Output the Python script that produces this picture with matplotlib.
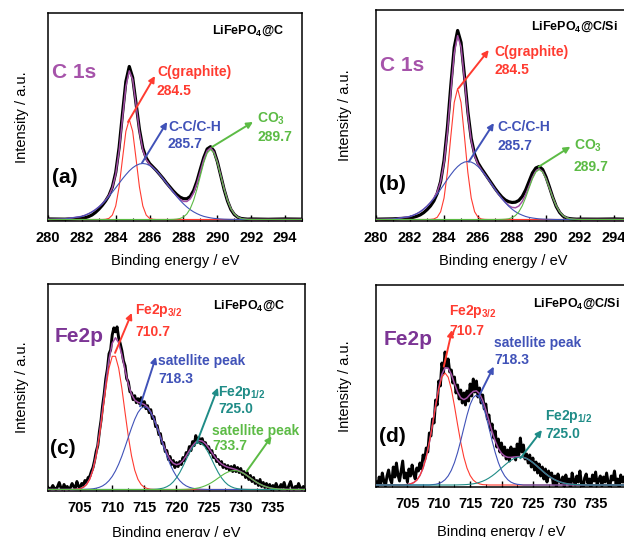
import numpy as np
import matplotlib
matplotlib.use('Agg')
import matplotlib.pyplot as plt
from matplotlib.ticker import MultipleLocator

plt.rcParams['font.family'] = ['Liberation Sans', 'DejaVu Sans']
plt.rcParams['font.weight'] = 'bold'
plt.rcParams['mathtext.fontset'] = 'custom'
plt.rcParams['mathtext.rm'] = 'Liberation Sans:bold'
plt.rcParams['mathtext.bf'] = 'Liberation Sans:bold'
plt.rcParams['mathtext.default'] = 'bf'

# ---- C 1s spectra (binding energy grid, eV) ----
c1s_energy = np.round(np.concatenate([[280, 281], np.arange(282, 292.01, 0.2), [293, 294, 295]]), 1)

# LiFePO4@C
c1s_a_graphite = [0, 0, 0, 0, 0, 0, 0, 0,
                  0, 0.2, 1.1, 4.4, 13.5, 32.5, 60.7, 88.2,
                  100, 88.2, 60.7, 32.5, 13.5, 4.4, 1.1, 0.2,
                  0, 0, 0, 0, 0, 0, 0, 0,
                  0, 0, 0, 0, 0, 0, 0, 0,
                  0, 0, 0, 0, 0, 0, 0, 0,
                  0, 0, 0, 0, 0, 0, 0, 0]
c1s_a_cc = [0.1, 0.5, 3.1, 4.3, 5.8, 7.6, 9.8, 12.5,
            15.6, 19.1, 23.0, 27.3, 31.7, 36.2, 40.7, 44.8,
            48.6, 51.7, 54.0, 55.5, 56.0, 55.5, 54.0, 51.7,
            48.6, 44.8, 40.7, 36.2, 31.7, 27.3, 23.0, 19.1,
            15.6, 12.5, 9.8, 7.6, 5.8, 4.3, 3.1, 2.3,
            1.6, 1.1, 0.8, 0.5, 0.3, 0.2, 0.1, 0.1,
            0, 0, 0, 0, 0, 0, 0, 0]
c1s_a_co3 = [0, 0, 0, 0, 0, 0, 0, 0,
             0, 0, 0, 0, 0, 0, 0, 0,
             0, 0, 0, 0, 0, 0, 0, 0,
             0, 0, 0, 0, 0, 0.1, 0.4, 1.0,
             2.5, 5.5, 10.8, 19.1, 30.5, 43.8, 56.9, 66.4,
             70.0, 66.4, 56.9, 43.8, 30.5, 19.1, 10.8, 5.5,
             2.5, 1.0, 0.4, 0.1, 0, 0, 0, 0]
c1s_a_raw = [0.5, 0.3, 1.2, 1.8, 2.9, 4.5, 7.0, 10.2,
             14.0, 18.5, 24.0, 32.5, 47.0, 72.0, 106.0, 138.0,
             153.0, 142.0, 116.0, 90.0, 71.5, 61.5, 56.0, 52.5,
             49.0, 45.0, 41.0, 36.5, 32.5, 28.5, 25.0, 22.3,
             20.8, 20.7, 23.0, 29.0, 38.5, 50.5, 62.0, 70.5,
             72.8, 68.5, 58.0, 44.0, 30.0, 18.5, 10.0, 5.0,
             2.3, 1.0, 0.6, 0.3, 0.5, 0.2, 0.5, 0.3]

# LiFePO4@C/Si
c1s_b_graphite = [0, 0, 0, 0, 0, 0, 0, 0,
                  0.1, 0.5, 2.2, 7.7, 21.4, 47.2, 83.2, 117.0,
                  131.0, 117.0, 83.2, 47.2, 21.4, 7.7, 2.2, 0.5,
                  0.1, 0, 0, 0, 0, 0, 0, 0,
                  0, 0, 0, 0, 0, 0, 0, 0,
                  0, 0, 0, 0, 0, 0, 0, 0,
                  0, 0, 0, 0, 0, 0, 0, 0]
c1s_b_cc = [0, 0.4, 3.0, 4.3, 5.8, 7.8, 10.3, 13.3,
            16.9, 20.9, 25.4, 30.2, 35.2, 40.2, 44.9, 49.3,
            52.9, 55.7, 57.4, 58.0, 57.4, 55.7, 52.9, 49.3,
            44.9, 40.2, 35.2, 30.2, 25.4, 20.9, 16.9, 13.3,
            10.3, 7.8, 5.8, 4.3, 3.0, 2.1, 1.5, 1.0,
            0.6, 0.4, 0.3, 0.2, 0.1, 0, 0, 0,
            0, 0, 0, 0, 0, 0, 0, 0]
c1s_b_co3 = [0, 0, 0, 0, 0, 0, 0, 0,
             0, 0, 0, 0, 0, 0, 0, 0,
             0, 0, 0, 0, 0, 0, 0, 0,
             0, 0, 0, 0, 0, 0.1, 0.3, 0.7,
             1.8, 3.9, 7.7, 13.6, 21.8, 31.3, 40.6, 47.4,
             50.0, 47.4, 40.6, 31.3, 21.8, 13.6, 7.7, 3.9,
             1.8, 0.7, 0.3, 0.1, 0, 0, 0, 0]
c1s_b_raw = [0.3, 0.6, 1.5, 2.2, 3.2, 4.6, 6.8, 9.8,
             13.5, 18.5, 26.0, 38.0, 59.0, 92.0, 134.0, 172.0,
             189.0, 177.0, 144.0, 108.0, 81.0, 65.0, 56.5, 51.0,
             46.0, 41.0, 36.0, 31.0, 26.5, 22.5, 19.5, 17.8,
             17.0, 17.3, 19.0, 23.0, 29.5, 38.0, 46.5, 51.5,
             53.0, 50.0, 42.5, 32.5, 22.0, 13.0, 7.0, 3.3,
             1.5, 0.8, 0.5, 0.3, 0.4, 0.3, 0.5, 0.2]

# ---- Fe 2p spectra ----
fe_fit_energy = np.arange(700, 740.01, 0.5)
fe_raw_energy = np.arange(700, 740.01, 0.25)

# fitted components: (first energy, values every 0.5 eV)
fe_c_p32 = (704.0, [0.1, 0.3, 0.9, 2.1, 4.9, 10.2, 19.4, 33.7, 53.3, 76.9, 101.3, 121.7, 133.5,
                    133.5, 121.7, 101.3, 76.9, 53.3, 33.7, 19.4, 10.2, 4.9, 2.1, 0.9, 0.3, 0.1])
fe_c_sat1 = (705.5, [0.1, 0.2, 0.4, 0.7, 1.3, 2.2, 3.6, 5.8, 8.9, 13.1, 18.6, 25.4, 33.5, 42.7, 52.3,
                     61.7, 70.3, 77.1, 81.5, 83.0, 81.5, 77.1, 70.3, 61.7, 52.3, 42.7, 33.5, 25.4,
                     18.6, 13.1, 8.9, 5.8, 3.6, 2.2, 1.3, 0.7, 0.4, 0.2, 0.1])
fe_c_p12 = (716.0, [0.1, 0.2, 0.4, 0.8, 1.5, 2.8, 4.7, 7.7, 11.7, 16.9, 23.1, 29.9, 36.4, 42.0, 45.7,
                    47.0, 45.7, 42.0, 36.4, 29.9, 23.1, 16.9, 11.7, 7.7, 4.7, 2.8, 1.5, 0.8, 0.4,
                    0.2, 0.1])
fe_c_sat2 = (721.0, [0.1, 0.2, 0.4, 0.6, 1.1, 1.7, 2.6, 3.8, 5.3, 7.1, 9.2, 11.5, 13.8, 15.9, 17.5,
                     18.6, 19.0, 18.6, 17.5, 15.9, 13.8, 11.5, 9.2, 7.1, 5.3, 3.8, 2.6, 1.7, 1.1,
                     0.6, 0.4, 0.2, 0.1])
fe_c_raw = [2, 0, 1, 4, 1, 0, 3, 7,
            2, 0, 5, 1, 3, 0, 2, 6,
            3, 1, 8, 3, 2, 6, 4, 9,
            7, 12, 13, 18, 22, 29, 38, 44,
            58, 69, 84, 96, 111, 121, 136, 140,
            155, 162, 158, 163, 152, 146, 139, 129,
            124, 111, 108, 98, 97, 90, 94, 87,
            91, 86, 92, 84, 88, 81, 84, 77,
            80, 71, 73, 63, 64, 55, 56, 46,
            47, 38, 39, 30, 33, 25, 29, 22,
            27, 23, 28, 25, 32, 29, 37, 35,
            43, 39, 48, 44, 54, 47, 52, 46,
            51, 45, 47, 41, 43, 37, 39, 32,
            34, 28, 30, 25, 28, 22, 25, 21,
            24, 19, 23, 18, 24, 18, 22, 17,
            21, 15, 18, 12, 17, 10, 14, 8,
            12, 6, 9, 4, 10, 3, 7, 2,
            6, 1, 5, 0, 4, 1, 6, 2,
            0, 5, 2, 7, 1, 0, 4, 8,
            2, 0, 3, 1, 6, 2, 0, 3,
            1]

fe_d_p32 = (704.5, [0.2, 0.4, 1.1, 2.4, 4.9, 9.5, 16.9, 27.9, 42.7, 60.4, 79.1, 96.0, 107.8, 112.0,
                    107.8, 96.0, 79.1, 60.4, 42.7, 27.9, 16.9, 9.5, 4.9, 2.4, 1.1, 0.4, 0.2])
fe_d_sat1 = (709.0, [0.4, 0.7, 1.5, 2.9, 5.3, 9.1, 14.7, 22.4, 32.4, 44.3, 57.2, 69.7, 80.4, 87.5,
                     90.0, 87.5, 80.4, 69.7, 57.2, 44.3, 32.4, 22.4, 14.7, 9.1, 5.3, 2.9, 1.5,
                     0.7, 0.4])
fe_d_p12 = (713.0, [0.1, 0.2, 0.3, 0.5, 0.8, 1.2, 1.8, 2.7, 3.8, 5.2, 7.0, 9.1, 11.5, 14.2, 17.0,
                    19.8, 22.4, 24.7, 26.5, 27.6, 28.0, 27.6, 26.5, 24.7, 22.4, 19.8, 17.0, 14.2,
                    11.5, 9.1, 7.0, 5.2, 3.8, 2.7, 1.8, 1.2, 0.8, 0.5, 0.3, 0.2, 0.1])
fe_d_raw = [3, -2, 8, 1, 12, 4, -1, 9,
            15, 6, 2, 18, 8, 22, 10, 4,
            14, 24, 7, 12, 3, 16, 9, 20,
            11, 6, 17, 14, 22, 16, 30, 25,
            37, 33, 52, 49, 66, 62, 85, 80,
            104, 99, 122, 112, 133, 118, 126, 113,
            115, 102, 108, 92, 100, 86, 95, 82,
            92, 80, 94, 84, 101, 89, 106, 93,
            104, 88, 97, 82, 90, 76, 81, 66,
            70, 55, 61, 47, 54, 38, 46, 33,
            42, 30, 38, 26, 35, 24, 38, 29,
            36, 25, 41, 30, 47, 33, 40, 26,
            31, 22, 30, 18, 27, 15, 23, 12,
            21, 9, 18, 6, 16, 3, 14, 8,
            12, 1, 9, -3, 11, 4, 2, 8,
            -2, 10, 3, 6, -4, 12, 5, 0,
            9, 3, 14, 1, -3, 7, 11, 2,
            6, -2, 10, 4, 13, 0, 5, 9,
            -1, 8, 3, 12, 2, -3, 9, 5,
            14, 1, 6, -2, 10, 3, 8, 0,
            4]

RED = '#ff3b30'
BLUE = '#4052b8'
GREEN = '#5cbb45'
TEAL = '#1f8c87'
ENV = '#a24fa6'
C1S_TXT = '#a653aa'
FE_TXT = '#7c3595'


def on_fit_grid(component):
    start, vals = component
    out = np.zeros(len(fe_fit_energy))
    i = int(round((start - fe_fit_energy[0]) / 0.5))
    out[i:i + len(vals)] = vals
    return out


def style_axes(ax, xlim, ylim, ticks, minor, ypad, xpad):
    ax.set_xlim(*xlim)
    ax.set_ylim(*ylim)
    ax.set_xticks(ticks)
    ax.xaxis.set_minor_locator(MultipleLocator(minor))
    ax.tick_params(axis='x', which='both', direction='in', labelsize=10.5, pad=7.5)
    ax.tick_params(axis='x', which='major', length=4, width=1)
    ax.tick_params(axis='x', which='minor', length=2.5, width=0.8)
    ax.set_yticks([])
    for s in ax.spines.values():
        s.set_linewidth(1.1)
    ax.set_xlabel('Binding energy / eV', fontsize=10.5, labelpad=xpad)
    ax.set_ylabel('Intensity / a.u.', fontsize=10.5, labelpad=ypad)


def label(ax, x, y, s, color, size=10):
    ax.text(x, y, s, color=color, fontsize=size, ha='left', va='center',
            transform=ax.transAxes)


def arrow(ax, tail, tip, color):
    ax.annotate('', xy=tip, xytext=tail, xycoords='axes fraction',
                arrowprops=dict(arrowstyle='-|>', color=color, lw=1.4,
                                mutation_scale=9, shrinkA=0, shrinkB=0))


fig = plt.figure(figsize=(6.24, 5.37), dpi=100)
ax_a = fig.add_axes([0.0769, 0.5885, 0.4071, 0.3873])
ax_b = fig.add_axes([0.6026, 0.5885, 0.4087, 0.3929])
ax_c = fig.add_axes([0.0769, 0.0857, 0.4119, 0.3855])
ax_d = fig.add_axes([0.6026, 0.0931, 0.4022, 0.3762])

# (a) and (b): C 1s
for ax, parts, raw in [(ax_a, (c1s_a_graphite, c1s_a_cc, c1s_a_co3), c1s_a_raw),
                       (ax_b, (c1s_b_graphite, c1s_b_cc, c1s_b_co3), c1s_b_raw)]:
    envelope = np.sum([np.array(p) for p in parts], axis=0)
    ax.plot(c1s_energy, raw, color='black', lw=2.3, zorder=2)
    ax.plot(c1s_energy, envelope, color=ENV, lw=1.1, zorder=3)
    for p, col in zip(parts, (RED, BLUE, GREEN)):
        ax.plot(c1s_energy, p, color=col, lw=0.8, zorder=4)

style_axes(ax_a, (280, 295), (-1.5, 206.5), np.arange(280, 295, 2), 1, 14, 6.5)
style_axes(ax_b, (280, 295), (-1.5, 209.5), np.arange(280, 295, 2), 1, 17, 6.5)

label(ax_a, 0.646, 0.913, r'LiFePO$_4$@C', 'black', 9)
label(ax_a, 0.016, 0.712, 'C 1s', C1S_TXT, 15)
label(ax_a, 0.016, 0.207, '(a)', 'black', 15)
label(ax_a, 0.429, 0.716, 'C(graphite)', RED)
label(ax_a, 0.429, 0.625, '284.5', RED)
label(ax_a, 0.472, 0.452, 'C-C/C-H', BLUE)
label(ax_a, 0.472, 0.370, '285.7', BLUE)
label(ax_a, 0.823, 0.492, r'CO$_3$', GREEN)
label(ax_a, 0.823, 0.405, '289.7', GREEN)
arrow(ax_a, (0.315, 0.476), (0.421, 0.697), RED)
arrow(ax_a, (0.370, 0.279), (0.469, 0.476), BLUE)
arrow(ax_a, (0.646, 0.356), (0.807, 0.476), GREEN)

label(ax_b, 0.608, 0.919, r'LiFePO$_4$@C/Si', 'black', 9)
label(ax_b, 0.016, 0.739, 'C 1s', C1S_TXT, 15)
label(ax_b, 0.012, 0.175, '(b)', 'black', 15)
label(ax_b, 0.463, 0.801, 'C(graphite)', RED)
label(ax_b, 0.463, 0.716, '284.5', RED)
label(ax_b, 0.475, 0.445, 'C-C/C-H', BLUE)
label(ax_b, 0.475, 0.355, '285.7', BLUE)
label(ax_b, 0.776, 0.358, r'CO$_3$', GREEN)
label(ax_b, 0.776, 0.258, '289.7', GREEN)
arrow(ax_b, (0.324, 0.630), (0.442, 0.810), RED)
arrow(ax_b, (0.364, 0.281), (0.462, 0.464), BLUE)
arrow(ax_b, (0.638, 0.257), (0.762, 0.352), GREEN)

# (c) and (d): Fe 2p
for ax, parts, cols, raw in [
        (ax_c, (fe_c_p32, fe_c_sat1, fe_c_p12, fe_c_sat2), (RED, BLUE, TEAL, GREEN), fe_c_raw),
        (ax_d, (fe_d_p32, fe_d_sat1, fe_d_p12), (RED, BLUE, TEAL), fe_d_raw)]:
    curves = [on_fit_grid(p) for p in parts]
    envelope = np.sum(curves, axis=0)
    ax.plot(fe_raw_energy, raw, color='black', lw=2.1, zorder=2)
    ax.plot(fe_fit_energy, envelope, color=ENV, lw=1.1, zorder=3)
    for cv, col in zip(curves, cols):
        ax.plot(fe_fit_energy, cv, color=col, lw=0.8, zorder=4)

style_axes(ax_c, (700, 740), (-1.5, 206), np.arange(705, 736, 5), 2.5, 14, 7.5)
style_axes(ax_d, (700, 740), (-2, 200), np.arange(705, 736, 5), 2.5, 17, 10)

label(ax_c, 0.642, 0.894, r'LiFePO$_4$@C', 'black', 9)
label(ax_c, 0.027, 0.745, 'Fe2p', FE_TXT, 15)
label(ax_c, 0.008, 0.205, '(c)', 'black', 15)
label(ax_c, 0.339, 0.870, r'Fe2p$_{3/2}$', RED)
label(ax_c, 0.339, 0.769, '710.7', RED)
label(ax_c, 0.428, 0.629, 'satellite peak', BLUE)
label(ax_c, 0.428, 0.542, '718.3', BLUE)
label(ax_c, 0.661, 0.478, r'Fe2p$_{1/2}$', TEAL)
label(ax_c, 0.661, 0.395, '725.0', TEAL)
label(ax_c, 0.638, 0.292, 'satellite peak', GREEN)
label(ax_c, 0.638, 0.215, '733.7', GREEN)
arrow(ax_c, (0.261, 0.667), (0.326, 0.860), RED)
arrow(ax_c, (0.358, 0.409), (0.420, 0.648), BLUE)
arrow(ax_c, (0.579, 0.234), (0.661, 0.499), TEAL)
arrow(ax_c, (0.773, 0.095), (0.870, 0.264), GREEN)

label(ax_d, 0.626, 0.906, r'LiFePO$_4$@C/Si', 'black', 9)
label(ax_d, 0.032, 0.728, 'Fe2p', FE_TXT, 15)
label(ax_d, 0.012, 0.248, '(d)', 'black', 15)
label(ax_d, 0.291, 0.871, r'Fe2p$_{3/2}$', RED)
label(ax_d, 0.291, 0.772, '710.7', RED)
label(ax_d, 0.470, 0.713, 'satellite peak', BLUE)
label(ax_d, 0.470, 0.629, '718.3', BLUE)
label(ax_d, 0.673, 0.351, r'Fe2p$_{1/2}$', TEAL)
label(ax_d, 0.673, 0.262, '725.0', TEAL)
arrow(ax_d, (0.270, 0.596), (0.303, 0.777), RED)
arrow(ax_d, (0.409, 0.447), (0.469, 0.596), BLUE)
arrow(ax_d, (0.575, 0.142), (0.661, 0.282), TEAL)

fig.savefig('out.png', dpi=100)
